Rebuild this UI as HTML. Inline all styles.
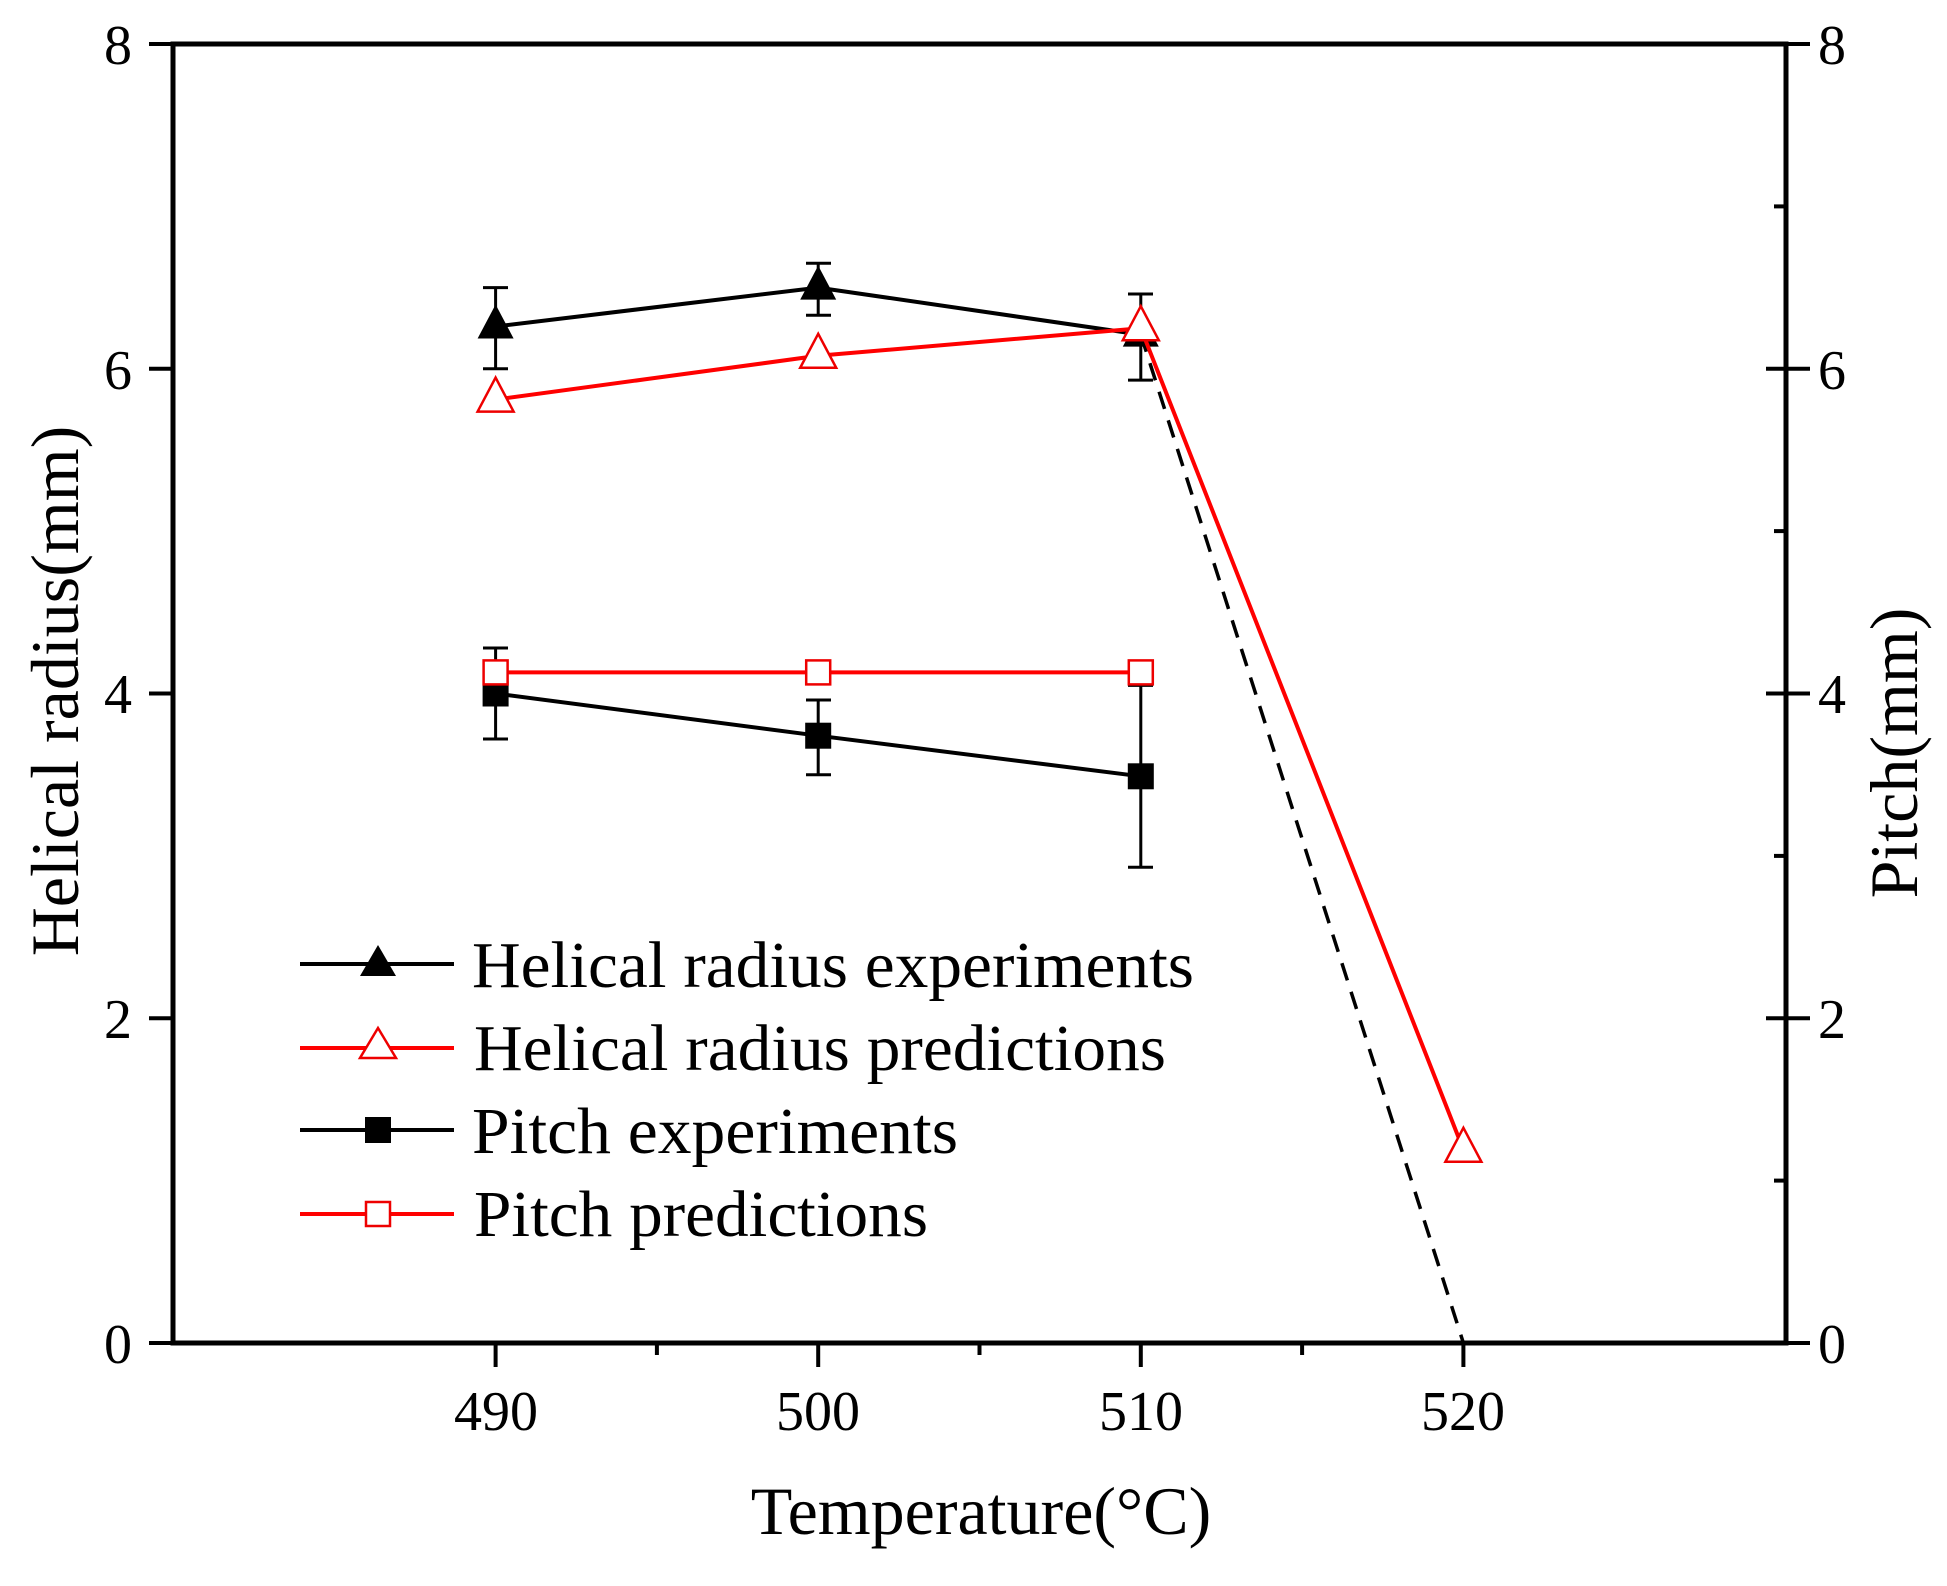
<!DOCTYPE html>
<html><head><meta charset="utf-8"><style>html,body{margin:0;padding:0;background:#fff}svg{display:block}</style></head>
<body>
<svg width="1947" height="1586" viewBox="0 0 1947 1586" xmlns="http://www.w3.org/2000/svg" font-family="'Liberation Serif', serif">
<rect width="1947" height="1586" fill="#fff"/>
<rect x="173" y="44" width="1613" height="1299" fill="none" stroke="#000" stroke-width="5"/>
<g stroke="#000" stroke-width="4">
<line x1="149" y1="1343" x2="173" y2="1343"/><line x1="149" y1="1018.25" x2="173" y2="1018.25"/><line x1="149" y1="693.5" x2="173" y2="693.5"/><line x1="149" y1="368.75" x2="173" y2="368.75"/><line x1="149" y1="44" x2="173" y2="44"/>
<line x1="1786" y1="1343" x2="1810" y2="1343"/><line x1="1786" y1="1018.25" x2="1810" y2="1018.25"/><line x1="1786" y1="693.5" x2="1810" y2="693.5"/><line x1="1786" y1="368.75" x2="1810" y2="368.75"/><line x1="1786" y1="44" x2="1810" y2="44"/>
<line x1="1766" y1="1018.25" x2="1786" y2="1018.25"/><line x1="1766" y1="693.5" x2="1786" y2="693.5"/><line x1="1766" y1="368.75" x2="1786" y2="368.75"/>
<line x1="1774" y1="1180.6" x2="1786" y2="1180.6"/><line x1="1774" y1="855.9" x2="1786" y2="855.9"/><line x1="1774" y1="531.1" x2="1786" y2="531.1"/><line x1="1774" y1="206.4" x2="1786" y2="206.4"/>
<line x1="495.6" y1="1343" x2="495.6" y2="1367"/><line x1="818.2" y1="1343" x2="818.2" y2="1367"/><line x1="1140.8" y1="1343" x2="1140.8" y2="1367"/><line x1="1463.4" y1="1343" x2="1463.4" y2="1367"/>
<line x1="656.9" y1="1343" x2="656.9" y2="1355"/><line x1="979.5" y1="1343" x2="979.5" y2="1355"/><line x1="1302.1" y1="1343" x2="1302.1" y2="1355"/>
</g>
<g font-size="56" fill="#000">
<g text-anchor="end"><text x="132" y="1363">0</text><text x="132" y="1038">2</text><text x="132" y="713">4</text><text x="132" y="389">6</text><text x="132" y="64">8</text></g>
<g text-anchor="start"><text x="1818" y="1363">0</text><text x="1818" y="1038">2</text><text x="1818" y="713">4</text><text x="1818" y="389">6</text><text x="1818" y="64">8</text></g>
<g text-anchor="middle"><text x="496" y="1430">490</text><text x="818" y="1430">500</text><text x="1141" y="1430">510</text><text x="1463" y="1430">520</text></g>
</g>
<g font-size="68" fill="#000" text-anchor="middle">
<text x="981" y="1534">Temperature(°C)</text>
<text transform="translate(78,691) rotate(-90)">Helical radius(mm)</text>
<text transform="translate(1917,753) rotate(-90)">Pitch(mm)</text>
</g>
<line x1="1140.8" y1="334.6" x2="1463.4" y2="1343" stroke="#000" stroke-width="3.5" stroke-dasharray="18,12"/>
<g stroke="#000" stroke-width="3">
<line x1="495.6" y1="287.6" x2="495.6" y2="368.8"/><line x1="483" y1="287.6" x2="508" y2="287.6"/><line x1="483" y1="368.8" x2="508" y2="368.8"/>
<line x1="818.2" y1="263.2" x2="818.2" y2="315.2"/><line x1="806" y1="263.2" x2="831" y2="263.2"/><line x1="806" y1="315.2" x2="831" y2="315.2"/>
<line x1="1140.8" y1="294" x2="1140.8" y2="380.1"/><line x1="1128" y1="294" x2="1153" y2="294"/><line x1="1128" y1="380.1" x2="1153" y2="380.1"/>
<line x1="495.6" y1="648" x2="495.6" y2="739"/><line x1="483" y1="648" x2="508" y2="648"/><line x1="483" y1="739" x2="508" y2="739"/>
<line x1="818.2" y1="700" x2="818.2" y2="774.7"/><line x1="806" y1="700" x2="831" y2="700"/><line x1="806" y1="774.7" x2="831" y2="774.7"/>
<line x1="1140.8" y1="685.4" x2="1140.8" y2="867.2"/><line x1="1128" y1="685.4" x2="1153" y2="685.4"/><line x1="1128" y1="867.2" x2="1153" y2="867.2"/>
</g>
<polyline points="495.6,326.5 818.2,287.6 1140.8,334.6" fill="none" stroke="#000" stroke-width="4"/>
<polyline points="495.6,693.5 818.2,735.7 1140.8,776.3" fill="none" stroke="#000" stroke-width="4"/>
<g fill="#000">
<polygon points="495.6,304.5 477.6,338.5 513.6,338.5"/><polygon points="818.2,265.6 800.2,299.6 836.2,299.6"/><polygon points="1140.8,312.6 1122.8,346.6 1158.8,346.6"/>
<rect x="482.6" y="680.5" width="26" height="26"/><rect x="805.2" y="722.7" width="26" height="26"/><rect x="1127.8" y="763.3" width="26" height="26"/>
</g>
<polyline points="495.6,399.6 818.2,355.8 1140.8,328.2 1463.4,1149.8" fill="none" stroke="#f00" stroke-width="4"/>
<polyline points="495.6,672.4 818.2,672.4 1140.8,672.4" fill="none" stroke="#f00" stroke-width="4"/>
<g fill="#fff" stroke="#e00" stroke-width="2.5">
<polygon points="495.6,377.6 477.6,411.6 513.6,411.6"/><polygon points="818.2,333.8 800.2,367.8 836.2,367.8"/><polygon points="1140.8,306.2 1122.8,340.2 1158.8,340.2"/><polygon points="1463.4,1127.8 1445.4,1161.8 1481.4,1161.8"/>
<rect x="483.6" y="660.4" width="24" height="24"/><rect x="806.2" y="660.4" width="24" height="24"/><rect x="1128.8" y="660.4" width="24" height="24"/>
</g>
<line x1="300" y1="964" x2="454" y2="964" stroke="#000" stroke-width="4"/>
<polygon points="378,945 360,976 396,976" fill="#000"/>
<line x1="300" y1="1048" x2="454" y2="1048" stroke="#f00" stroke-width="4"/>
<polygon points="378,1028 360,1058 396,1058" fill="#fff" stroke="#e00" stroke-width="2.5"/>
<line x1="300" y1="1130" x2="454" y2="1130" stroke="#000" stroke-width="4"/>
<rect x="365" y="1117" width="26" height="26" fill="#000"/>
<line x1="300" y1="1214" x2="454" y2="1214" stroke="#f00" stroke-width="4"/>
<rect x="366" y="1202" width="24" height="24" fill="#fff" stroke="#e00" stroke-width="2.5"/>
<g font-size="66" fill="#000">
<text x="472" y="987" textLength="722" lengthAdjust="spacingAndGlyphs">Helical radius experiments</text>
<text x="474" y="1070" textLength="692" lengthAdjust="spacingAndGlyphs">Helical radius predictions</text>
<text x="472" y="1153" textLength="486" lengthAdjust="spacingAndGlyphs">Pitch experiments</text>
<text x="474" y="1236" textLength="454" lengthAdjust="spacingAndGlyphs">Pitch predictions</text>
</g>
</svg>
</body></html>
